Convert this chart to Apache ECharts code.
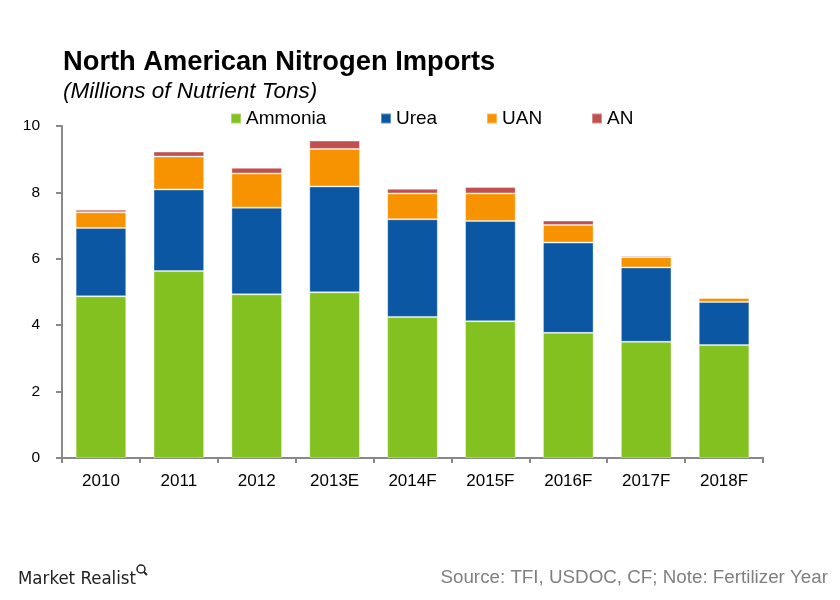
<!DOCTYPE html>
<html>
<head>
<meta charset="utf-8">
<script src="https://cdn.jsdelivr.net/npm/echarts@6/dist/echarts.min.js"></script>
<style>html,body{margin:0;padding:0;background:#fff}#c{width:840px;height:600px}</style>
</head>
<body>
<div id="c"></div>
<script>
const categories = ['2010','2011','2012','2013E','2014F','2015F','2016F','2017F','2018F'];
const ammonia = [4.87, 5.63, 4.93, 4.99, 4.25, 4.12, 3.77, 3.50, 3.40];
const urea    = [2.06, 2.46, 2.61, 3.19, 2.94, 3.02, 2.72, 2.24, 1.30];
const uan     = [0.47, 0.99, 1.03, 1.13, 0.78, 0.83, 0.53, 0.31, 0.12];
const an      = [0.08, 0.15, 0.17, 0.25, 0.14, 0.19, 0.13, 0.04, 0.02];
const yTicks = [0, 2, 4, 6, 8, 10];

const FONT = '"Liberation Sans", Arial, sans-serif';
const chart = echarts.init(document.getElementById('c'), null, {renderer: 'canvas'});

function legendAt(name, left) {
  return {
    data: [name], left: left, top: 104, itemWidth: 10, itemHeight: 10, itemGap: 0,
    icon: 'rect', textStyle: {fontFamily: FONT, fontSize: 19, color: '#000'},
    selectedMode: false
  };
}

const mk = (name, data, color) => ({
  name, type: 'bar', stack: 'total', data, barWidth: '65%',
  itemStyle: {color, borderColor: 'rgba(255,255,255,0.35)', borderWidth: 1},
  emphasis: {disabled: true}
});

chart.setOption({
  animation: false,
  title: [
    {text: 'North American Nitrogen Imports', left: 58, top: 44,
     textStyle: {fontFamily: FONT, fontSize: 27.3, fontWeight: 'bold', color: '#000'}},
    {text: '(Millions of Nutrient Tons)', left: 58, top: 75,
     textStyle: {fontFamily: FONT, fontSize: 22.5, fontStyle: 'italic', fontWeight: 'normal', color: '#000'}},
    {text: 'Market Realist', left: 13, top: 565,
     textStyle: {fontFamily: '"Liberation Sans Narrow", "DejaVu Sans Condensed", ' + FONT, fontSize: 18.5, fontWeight: 'normal', color: '#222'}},
    {text: 'Source: TFI, USDOC, CF; Note: Fertilizer Year', right: 7, top: 563,
     textStyle: {fontFamily: FONT, fontSize: 18.8, fontWeight: 'normal', color: '#808080'}}
  ],
  graphic: [
    {type: 'circle', shape: {cx: 141, cy: 569, r: 4}, style: {fill: 'none', stroke: '#222', lineWidth: 1.5}},
    {type: 'line', shape: {x1: 144, y1: 572, x2: 147, y2: 575}, style: {stroke: '#222', lineWidth: 2}}
  ],
  legend: [
    legendAt('Ammonia', 225),
    legendAt('Urea', 375),
    legendAt('UAN', 481),
    legendAt('AN', 586)
  ],
  grid: {left: 62, right: 77, top: 126, bottom: 142, containLabel: false},
  xAxis: {
    type: 'category', data: categories,
    axisLine: {lineStyle: {color: '#888', width: 2}},
    axisTick: {show: true, length: 5, lineStyle: {color: '#888', width: 2}},
    axisLabel: {fontFamily: FONT, fontSize: 17, color: '#000', margin: 15}
  },
  yAxis: {
    type: 'value', min: yTicks[0], max: yTicks[yTicks.length - 1], interval: 2,
    splitLine: {show: false},
    axisLine: {show: true, lineStyle: {color: '#888', width: 2}},
    axisTick: {show: true, length: 6, lineStyle: {color: '#888', width: 2}},
    axisLabel: {fontFamily: FONT, fontSize: 15.5, color: '#000', margin: 22}
  },
  series: [
    mk('Ammonia', ammonia, '#82C11F'),
    mk('Urea', urea, '#0B57A3'),
    mk('UAN', uan, '#F79300'),
    mk('AN', an, '#C0504D')
  ]
});
</script>
</body>
</html>
